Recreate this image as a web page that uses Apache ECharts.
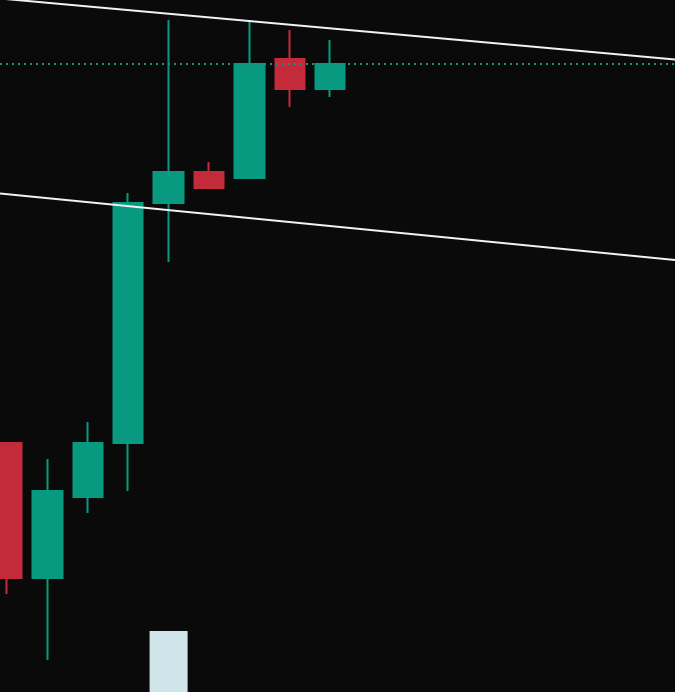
<!DOCTYPE html>
<html>
<head>
<meta charset="utf-8">
<script src="https://cdn.jsdelivr.net/npm/echarts@6/dist/echarts.min.js"></script>
<style>
html, body { margin: 0; padding: 0; background: #0a0a0a; }
#chart { width: 675px; height: 692px; }
</style>
</head>
<body>
<div id="chart"></div>
<script>
// 17 slots on the x axis, only the first 9 carry candles
const categories = ['1', '2', '3', '4', '5', '6', '7', '8', '9', '10', '11', '12', '13', '14', '15', '16', '17'];
// [open, close, low, high]
const candles = [
    [249, 114, 98, 249],
    [114, 201, 32, 233],
    [195, 249, 179, 270],
    [249, 489, 201, 499],
    [489, 520, 430, 672],
    [520, 504, 504, 530],
    [514, 628, 514, 672],
    [633, 603, 585, 662],
    [603, 628, 595, 652]
];
const volume = ['-', '-', '-', '-', 61, '-', '-', '-', '-'];
// horizontal level, [slot index, price]
const levelLine = [[-0.173, 628], [16.535, 628]];
// trend lines as [slot index, price]
const upperTrend = [[-0.173, 693.5], [16.535, 632.5]];
const lowerTrend = [[-0.173, 498.5], [16.535, 432]];

const green = '#089981';
const red = '#c42b3a';

const chart = echarts.init(document.getElementById('chart'));
chart.setOption({
    backgroundColor: '#0a0a0a',
    animation: false,
    grid: [
        { left: 7, right: 21.6, top: 0, bottom: 0 },
        // full-width grid for the drawn lines, same slot units
        { left: 0, right: 0, top: 0, bottom: 0 }
    ],
    xAxis: [
        { type: 'category', data: categories, boundaryGap: false, show: false, gridIndex: 0 },
        { type: 'value', min: -0.173, max: 16.535, show: false, gridIndex: 1 }
    ],
    yAxis: [
        { type: 'value', min: 0, max: 692, show: false, splitLine: { show: false }, gridIndex: 0 },
        { type: 'value', min: 0, max: 692, show: false, splitLine: { show: false }, gridIndex: 1 }
    ],
    series: [
        {
            type: 'line',
            xAxisIndex: 1,
            yAxisIndex: 1,
            data: levelLine,
            symbol: 'none',
            lineStyle: { color: '#1b907d', type: [2, 4], width: 2 }
        },
        {
            type: 'line',
            xAxisIndex: 1,
            yAxisIndex: 1,
            data: upperTrend,
            symbol: 'none',
            clip: false,
            lineStyle: { color: '#f2f2f2', width: 2 }
        },
        {
            type: 'line',
            xAxisIndex: 1,
            yAxisIndex: 1,
            data: lowerTrend,
            symbol: 'none',
            lineStyle: { color: '#f2f2f2', width: 2 }
        },
        {
            type: 'bar',
            data: volume,
            barWidth: 38,
            itemStyle: { color: '#d0e5e9' }
        },
        {
            type: 'candlestick',
            data: candles,
            barWidth: 30,
            clip: false,
            itemStyle: {
                color: green,
                color0: red,
                borderColor: green,
                borderColor0: red,
                borderWidth: 2
            }
        }
    ]
});
</script>
</body>
</html>
